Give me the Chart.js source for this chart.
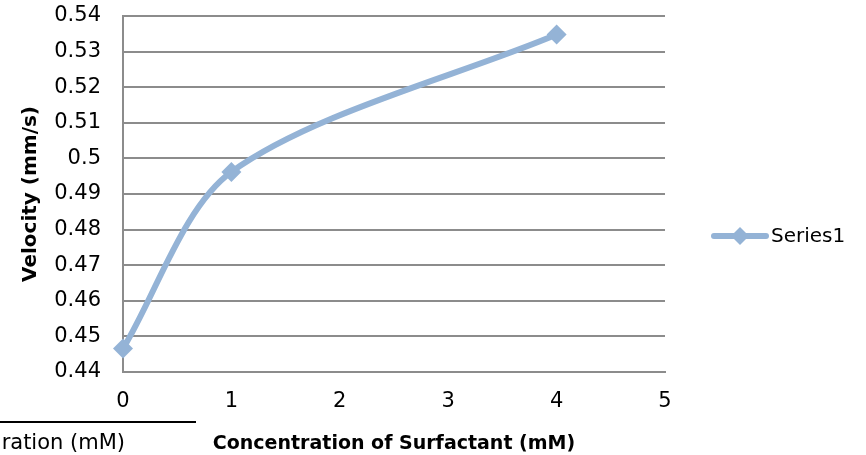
<!DOCTYPE html>
<html>
<head>
<meta charset="utf-8">
<script src="https://cdn.jsdelivr.net/npm/chart.js@4/dist/chart.umd.min.js"></script>
<style>
html,body{margin:0;padding:0;background:#fff;}
#wrap{width:866px;height:455px;position:relative;}
</style>
</head>
<body>
<div id="wrap"><canvas id="c" width="866" height="455"></canvas></div>
<script>
const seriesName = "Series1";
const concentrations = [0, 1, 4];
const velocities = [0.4466, 0.4962, 0.5348];
const xTitle = "Concentration of Surfactant (mM)";
const yTitle = "Velocity (mm/s)";
const strayText = "ration (mM)";

const FONT = "'DejaVu Sans', sans-serif";
const LINE_COLOR = "#94b3d6";

const points = concentrations.map((x, i) => ({x: x, y: velocities[i]}));

const extras = {
  id: 'extras',
  afterDraw(chart) {
    const ctx = chart.ctx;
    ctx.save();
    // legend
    const ly = 236;
    ctx.strokeStyle = LINE_COLOR;
    ctx.lineWidth = 6;
    ctx.lineCap = 'round';
    ctx.beginPath();
    ctx.moveTo(714, ly);
    ctx.lineTo(766, ly);
    ctx.stroke();
    ctx.fillStyle = LINE_COLOR;
    ctx.beginPath();
    ctx.moveTo(740, ly - 9);
    ctx.lineTo(749, ly);
    ctx.lineTo(740, ly + 9);
    ctx.lineTo(731, ly);
    ctx.closePath();
    ctx.fill();
    ctx.fillStyle = '#000';
    ctx.font = "20px " + FONT;
    ctx.textAlign = 'left';
    ctx.textBaseline = 'middle';
    ctx.fillText(seriesName, 771, ly + 1);
    // stray fragment from neighbouring chart
    ctx.strokeStyle = '#000';
    ctx.lineWidth = 2;
    ctx.lineCap = 'butt';
    ctx.beginPath();
    ctx.moveTo(0, 422);
    ctx.lineTo(196, 422);
    ctx.stroke();
    ctx.font = "21px " + FONT;
    ctx.textAlign = 'right';
    ctx.fillText(strayText, 125, 444);
    ctx.restore();
  }
};

new Chart(document.getElementById('c'), {
  type: 'scatter',
  data: {
    datasets: [{
      label: seriesName,
      data: points,
      showLine: true,
      borderColor: LINE_COLOR,
      backgroundColor: LINE_COLOR,
      borderWidth: 6,
      tension: 0.3,
      pointStyle: 'rectRot',
      pointRadius: 10,
      pointHoverRadius: 10,
      pointBorderWidth: 0,
      clip: false
    }]
  },
  options: {
    responsive: false,
    animation: false,
    devicePixelRatio: 1,
    layout: {padding: {left: 0, right: 201, top: 16, bottom: 0}},
    plugins: {legend: {display: false}, tooltip: {enabled: false}},
    scales: {
      x: {
        type: 'linear',
        min: 0, max: 5,
        ticks: {stepSize: 1, color: '#000', font: {family: FONT, size: 21}, padding: 17},
        grid: {display: false, drawTicks: false},
        border: {display: true, color: '#8c8c8c', width: 2},
        title: {display: true, text: xTitle, color: '#000', font: {family: FONT, size: 19, weight: 'bold'}, padding: {top: 3, bottom: 0}},
        afterFit(s) { s.height = 83; s.paddingLeft = 0; s.paddingRight = 0; }
      },
      y: {
        min: 0.44, max: 0.54,
        ticks: {stepSize: 0.01, color: '#000', font: {family: FONT, size: 21}, padding: 22,
          callback: v => String(Math.round(v * 100) / 100)},
        grid: {color: '#8c8c8c', lineWidth: 2, drawTicks: false},
        border: {display: true, color: '#8c8c8c', width: 2},
        title: {display: true, text: yTitle, color: '#000', font: {family: FONT, size: 20, weight: 'bold'}, padding: {top: 19, bottom: 0}},
        afterFit(s) { s.width = 123; s.paddingTop = 0; s.paddingBottom = 0; }
      }
    }
  },
  plugins: [extras]
});
</script>
</body>
</html>
